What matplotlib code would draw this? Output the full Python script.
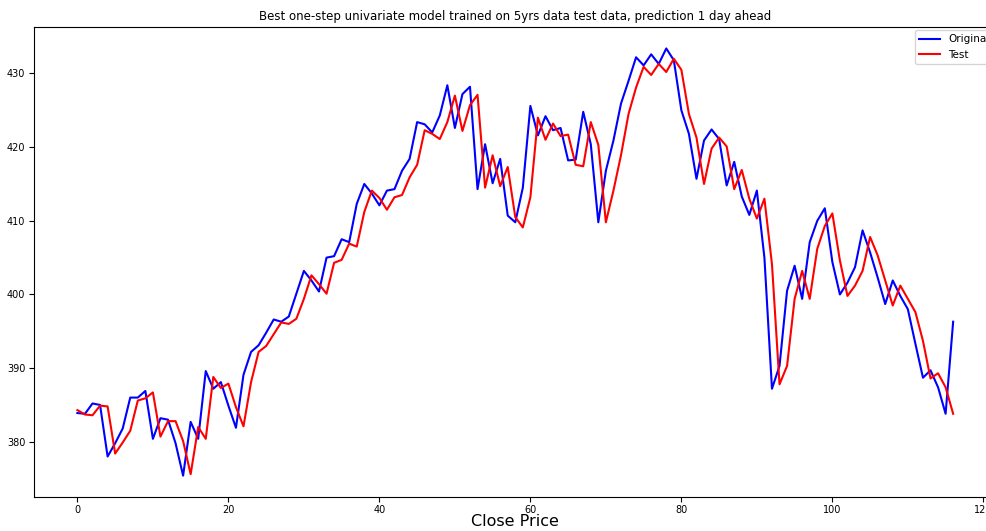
import matplotlib
matplotlib.use('Agg')
import matplotlib.pyplot as plt
import numpy as np

# closing prices over the test window (one value per day)
original = [383.9, 383.8, 385.2, 385.0, 378.0, 379.8, 381.8, 386.0, 386.0, 386.9,
            380.4, 383.2, 383.0, 379.8, 375.4, 382.7, 380.4, 389.6, 387.2, 388.1,
            384.9, 381.9, 389.1, 392.2, 393.1, 394.8, 396.6, 396.3, 397.0, 400.1,
            403.2, 401.9, 400.4, 405.0, 405.2, 407.5, 407.1, 412.3, 415.0, 413.7,
            412.1, 414.1, 414.3, 416.8, 418.4, 423.4, 423.1, 422.0, 424.3, 428.4,
            422.6, 427.2, 428.2, 414.3, 420.4, 415.1, 418.4, 410.7, 409.8, 414.5,
            425.6, 421.6, 424.2, 422.3, 422.6, 418.2, 418.3, 424.8, 420.4, 409.8,
            416.8, 420.9, 425.9, 429.0, 432.2, 431.1, 432.6, 431.3, 433.4, 431.8,
            425.0, 421.8, 415.7, 420.9, 422.4, 421.1, 414.8, 418.0, 413.3, 410.8,
            414.1, 405.0, 387.2, 390.3, 400.5, 403.9, 399.4, 407.1, 410.0, 411.7,
            404.4, 400.0, 401.6, 403.7, 408.7, 405.7, 402.3, 398.7, 401.9, 399.8,
            398.0, 393.3, 388.7, 389.7, 387.4, 383.8, 396.3]

# one-step-ahead predictions
test = [384.3, 383.7, 383.6, 384.9, 384.8, 378.4, 379.9, 381.5, 385.6, 385.9,
        386.7, 380.7, 382.8, 382.8, 380.1, 375.6, 382.0, 380.4, 388.8, 387.3,
        387.9, 384.7, 382.1, 388.1, 392.2, 393.0, 394.6, 396.2, 396.0, 396.7,
        399.4, 402.6, 401.4, 400.1, 404.3, 404.7, 406.9, 406.5, 411.2, 414.1,
        413.1, 411.5, 413.2, 413.5, 415.9, 417.6, 422.3, 421.8, 421.1, 423.4,
        427.0, 422.2, 425.7, 427.1, 414.5, 418.9, 414.7, 417.3, 410.5, 409.1,
        413.2, 424.0, 421.0, 423.2, 421.5, 421.7, 417.6, 417.4, 423.4, 420.3,
        409.8, 414.1, 418.9, 424.5, 428.1, 430.9, 429.8, 431.3, 430.2, 432.0,
        430.5, 424.5, 421.3, 415.0, 419.8, 421.3, 420.1, 414.3, 416.9, 413.0,
        410.3, 413.0, 404.1, 387.8, 390.3, 399.4, 403.2, 399.4, 406.2, 409.3,
        411.0, 404.6, 399.8, 401.2, 403.2, 407.8, 405.3, 401.9, 398.5, 401.2,
        399.4, 397.6, 393.7, 388.6, 389.3, 387.4, 383.8]

plt.rcParams['font.family'] = 'DejaVu Sans'

fig = plt.figure(figsize=(9.86, 5.31), dpi=100)
ax = fig.add_axes([0.0341, 0.064, 0.977, 0.885])

ax.plot(original, color='blue', label='Original')
ax.plot(test, color='red', label='Test')

ax.set_title('Best one-step univariate model trained on 5yrs data test data, prediction 1 day ahead',
             fontsize=8.5, pad=5)
ax.set_xlabel('Close Price', fontsize=11.5, labelpad=-1)
ax.tick_params(labelsize=7, pad=2.5)
ax.set_xticks([0, 20, 40, 60, 80, 100, 120])
ax.legend(loc='upper right', fontsize=7.5, borderaxespad=0.3)

plt.savefig('out.png', dpi=100)
plt.close()
